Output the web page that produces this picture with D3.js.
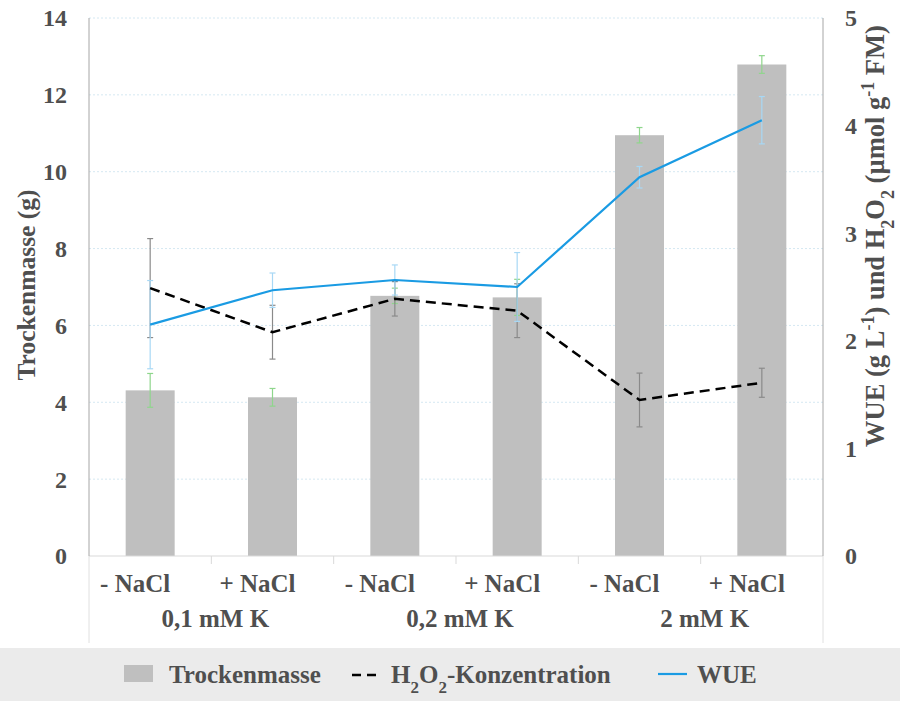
<!DOCTYPE html>
<html>
<head>
<meta charset="utf-8">
<script src="https://cdn.jsdelivr.net/npm/d3@7"></script>
<style>
  body { margin: 0; background: #fff; }
  svg text { font-family: "Liberation Serif", "Times New Roman", Times, serif; font-weight: bold; fill: #4f4f4f; }
</style>
</head>
<body>
<svg id="chart" width="900" height="701"></svg>
<script>
// data
var categories = ['- NaCl', '+ NaCl', '- NaCl', '+ NaCl', '- NaCl', '+ NaCl'];
var groups = ['0,1 mM K', '0,2 mM K', '2 mM K'];

var trockenmasse = [4.31, 4.13, 6.77, 6.73, 10.95, 12.79];
var trockenmasseErr = [0.44, 0.23, 0.20, 0.47, 0.20, 0.23];

var h2o2 = [2.49, 2.08, 2.39, 2.28, 1.45, 1.61];
var h2o2Err = [0.46, 0.25, 0.16, 0.25, 0.25, 0.135];

var wue = [2.15, 2.47, 2.565, 2.50, 3.52, 4.05];
var wueErr = [0.41, 0.16, 0.14, 0.32, 0.10, 0.22];

var leftTicks = [0, 2, 4, 6, 8, 10, 12, 14];
var rightTicks = [0, 1, 2, 3, 4, 5];

var svgWidth = 900, svgHeight = 701;
var plotLeft = 89, plotRight = 823, plotTop = 18, plotBottom = 556;

var svg = d3.select('#chart');

var x = d3.scaleBand()
    .domain(d3.range(categories.length))
    .range([plotLeft, plotRight]);

var yLeft = d3.scaleLinear().domain([0, 14]).range([plotBottom, plotTop]);
var yRight = d3.scaleLinear().domain([0, 5]).range([plotBottom, plotTop]);

// gridlines
svg.append('g')
    .selectAll('line')
    .data(leftTicks.slice(1))
    .enter()
    .append('line')
    .attr('x1', plotLeft).attr('x2', plotRight)
    .attr('y1', function(d) { return yLeft(d); })
    .attr('y2', function(d) { return yLeft(d); })
    .attr('stroke', '#d5e8f2')
    .attr('stroke-width', 1)
    .attr('stroke-dasharray', '2,2');

// frame lines below the axis
svg.append('line').attr('x1', plotLeft).attr('x2', plotLeft).attr('y1', plotBottom).attr('y2', 643)
    .attr('stroke', '#e0e0e0');
svg.append('line').attr('x1', plotRight).attr('x2', plotRight).attr('y1', plotBottom).attr('y2', 643)
    .attr('stroke', '#e0e0e0');

// bars
var barW = 49;
svg.append('g')
    .selectAll('rect')
    .data(trockenmasse)
    .enter()
    .append('rect')
    .attr('x', function(d, i) { return x(i) + x.bandwidth() / 2 - barW / 2; })
    .attr('y', function(d) { return yLeft(d); })
    .attr('width', barW)
    .attr('height', function(d) { return plotBottom - yLeft(d); })
    .attr('fill', '#bfbfbf');

// x axis line and ticks
svg.append('line').attr('x1', plotLeft).attr('x2', plotRight).attr('y1', plotBottom).attr('y2', plotBottom)
    .attr('stroke', '#d9d9d9');
svg.append('g')
    .selectAll('line')
    .data(d3.range(1, categories.length))
    .enter()
    .append('line')
    .attr('x1', function(d) { return x(d); })
    .attr('x2', function(d) { return x(d); })
    .attr('y1', plotBottom).attr('y2', plotBottom + 8)
    .attr('stroke', '#d9d9d9');

// vertical axes
svg.append('line').attr('x1', plotLeft).attr('x2', plotLeft).attr('y1', plotTop).attr('y2', plotBottom)
    .attr('stroke', '#a6a6a6');
svg.append('line').attr('x1', plotRight).attr('x2', plotRight).attr('y1', plotTop).attr('y2', plotBottom)
    .attr('stroke', '#a6a6a6');

// error bars helper
function errorBars(values, errs, scale, colour) {
    var g = svg.append('g').attr('stroke', colour).attr('stroke-width', 1.2);
    values.forEach(function(v, i) {
        var cx = x(i) + x.bandwidth() / 2;
        var y1 = scale(v + errs[i]), y2 = scale(v - errs[i]);
        g.append('line').attr('x1', cx).attr('x2', cx).attr('y1', y1).attr('y2', y2);
        g.append('line').attr('x1', cx - 3).attr('x2', cx + 3).attr('y1', y1).attr('y2', y1);
        g.append('line').attr('x1', cx - 3).attr('x2', cx + 3).attr('y1', y2).attr('y2', y2);
    });
}

errorBars(trockenmasse, trockenmasseErr, yLeft, '#8fd68c');

var line = function(scale) {
    return d3.line()
        .x(function(d, i) { return x(i) + x.bandwidth() / 2; })
        .y(function(d) { return scale(d); });
};

errorBars(h2o2, h2o2Err, yRight, '#8a8a8a');
errorBars(wue, wueErr, yRight, '#a8d8f5');

svg.append('path')
    .datum(h2o2)
    .attr('d', line(yRight))
    .attr('fill', 'none')
    .attr('stroke', '#000')
    .attr('stroke-width', 2.5)
    .attr('stroke-dasharray', '10,6');

svg.append('path')
    .datum(wue)
    .attr('d', line(yRight))
    .attr('fill', 'none')
    .attr('stroke', '#1a9be3')
    .attr('stroke-width', 2.2);

// tick labels
svg.append('g')
    .selectAll('text')
    .data(leftTicks)
    .enter()
    .append('text')
    .attr('x', 67)
    .attr('y', function(d) { return yLeft(d); })
    .attr('dy', '0.35em')
    .attr('text-anchor', 'end')
    .style('font-size', '24px')
    .text(function(d) { return d; });

svg.append('g')
    .selectAll('text')
    .data(rightTicks)
    .enter()
    .append('text')
    .attr('x', 845)
    .attr('y', function(d) { return yRight(d); })
    .attr('dy', '0.35em')
    .style('font-size', '24px')
    .text(function(d) { return d; });

// category labels
svg.append('g')
    .selectAll('text')
    .data(categories)
    .enter()
    .append('text')
    .attr('x', function(d, i) { return x(i) + x.bandwidth() / 2 - 15; })
    .attr('y', 592)
    .attr('text-anchor', 'middle')
    .style('font-size', '25px')
    .text(function(d) { return d; });

svg.append('g')
    .selectAll('text')
    .data(groups)
    .enter()
    .append('text')
    .attr('x', function(d, i) { return x(i * 2) + x.bandwidth() + 4; })
    .attr('y', 627)
    .attr('text-anchor', 'middle')
    .style('font-size', '25px')
    .text(function(d) { return d; });

// axis titles
svg.append('text')
    .attr('transform', 'translate(35,285) rotate(-90)')
    .attr('text-anchor', 'middle')
    .style('font-size', '25.5px')
    .text('Trockenmasse (g)');

var rt = svg.append('text')
    .attr('transform', 'translate(884,236) rotate(-90)')
    .attr('text-anchor', 'middle')
    .style('font-size', '26.5px');
var parts = [
    ['WUE (g L', 0], ['-1', 1], [') und H', 0], ['2', -1], ['O', 0], ['2', -1],
    [' (\u00b5mol g', 0], ['-1', 1], [' FM)', 0]
];
parts.forEach(function(p) {
    var t = rt.append('tspan').text(p[0]);
    if (p[1] === 1) t.attr('baseline-shift', 'super').style('font-size', '18px');
    if (p[1] === -1) t.attr('baseline-shift', 'sub').style('font-size', '18px');
});

// legend
svg.append('rect').attr('x', 0).attr('y', 648).attr('width', svgWidth).attr('height', svgHeight - 648)
    .attr('fill', '#ebebeb');
svg.append('rect').attr('x', 124).attr('y', 665).attr('width', 29).attr('height', 17)
    .attr('fill', '#bfbfbf');
svg.append('text').attr('x', 169).attr('y', 683).style('font-size', '25px').text('Trockenmasse');
svg.append('line').attr('x1', 352).attr('x2', 382).attr('y1', 675).attr('y2', 675)
    .attr('stroke', '#000').attr('stroke-width', 2.5).attr('stroke-dasharray', '9,6');
var lt = svg.append('text').attr('x', 391).attr('y', 683).style('font-size', '25px');
lt.append('tspan').text('H');
lt.append('tspan').text('2').attr('baseline-shift', 'sub').style('font-size', '17px');
lt.append('tspan').text('O');
lt.append('tspan').text('2').attr('baseline-shift', 'sub').style('font-size', '17px');
lt.append('tspan').text('-Konzentration');
svg.append('line').attr('x1', 658).attr('x2', 687).attr('y1', 674).attr('y2', 674)
    .attr('stroke', '#1a9be3').attr('stroke-width', 2.2);
svg.append('text').attr('x', 697).attr('y', 683).style('font-size', '25px').text('WUE');
</script>
</body>
</html>
